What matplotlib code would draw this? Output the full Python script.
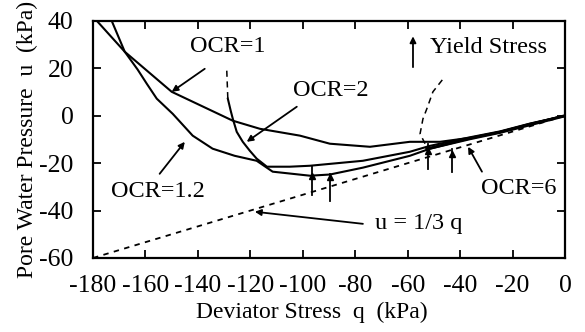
import matplotlib.pyplot as plt
import numpy as np

plt.rcParams['font.family'] = 'Liberation Serif'
plt.rcParams['axes.unicode_minus'] = False

# deviator stress q (kPa) and pore pressure u (kPa)
ocr1_q = [-178.6, -167.9, -150.0, -126.7, -116.4, -101.1, -89.7, -74.4, -59.2, -47.7, -36.3, -24.8, -13.4, 0]
ocr1_u = [40.1, 27.0, 10.1, -2.1, -5.5, -8.4, -11.8, -13.1, -11.0, -11.0, -9.3, -6.8, -3.4, 0]

ocr12_q = [-172.9, -167.9, -163.0, -159.5, -155.7, -149.6, -142.0, -134.4, -126.0, -117.6, -111.5,
           -97.3, -89.7, -77.1, -59.2, -51.5, -36.3, -24.8, -13.4, 0]
ocr12_u = [40.1, 27.0, 19.5, 13.5, 7.2, 0.8, -8.4, -13.9, -16.9, -19.0, -23.6,
           -25.3, -24.8, -21.9, -16.9, -13.9, -9.6, -7.0, -3.6, 0]

ocr2_dash_q = [-129.0, -128.6]
ocr2_dash_u = [19.0, 7.2]
ocr2_q = [-128.6, -127.5, -126.7, -125.2, -122.9, -120.2, -117.6, -113.7, -105.0, -97.3, -77.1,
          -59.2, -51.5, -36.3, -24.8, -13.4, 0]
ocr2_u = [7.2, 2.1, -1.3, -6.8, -11.0, -14.8, -18.1, -21.5, -21.5, -21.1, -19.0,
          -15.2, -12.7, -9.1, -6.6, -3.3, 0]

ocr6_q = [-52.7, -44.3, -36.3, -24.8, -13.4, 0]
ocr6_u = [-14.0, -11.8, -9.7, -7.0, -3.8, 0]

locus_q = [-53.4, -55.3, -54.2, -52.7, -50.4, -46.2]
locus_u = [-11.8, -7.6, -1.3, 3.0, 10.1, 16.0]

line_q = [-180, 0]
line_u = [q / 3 for q in line_q]

# yield stress arrows: q, top, head, bottom
yield_q = [-96.6, -89.7, -52.3, -43.1]
yield_top = [-21.1, -24.5, -11.8, -13.9]
yield_head = [-25.3, -25.7, -14.8, -16.0]
yield_bot = [-33.3, -35.9, -22.4, -23.6]

fig = plt.figure(figsize=(5.85, 3.32), dpi=100)
ax = fig.add_axes([0.159, 0.223, 0.807, 0.714])

lw = 1.5
ax.plot(ocr1_q, ocr1_u, color='black', lw=lw)
ax.plot(ocr12_q, ocr12_u, color='black', lw=lw)
ax.plot(ocr2_q, ocr2_u, color='black', lw=lw)
ax.plot(ocr2_dash_q, ocr2_dash_u, color='black', lw=1.1, ls=(0, (4, 3)))
ax.plot(ocr6_q, ocr6_u, color='black', lw=2.2)
ax.plot(locus_q, locus_u, color='black', lw=1.1, ls=(0, (4, 3)))
ax.plot(line_q, line_u, color='black', lw=1.3, ls=(0, (3, 3)))

for q, t, h, b in zip(yield_q, yield_top, yield_head, yield_bot):
    ax.plot([q, q], [t, b], color='black', lw=1.3)
    ax.plot(q, h, marker='^', color='black', ms=4.5)

arrow = dict(arrowstyle='-|>', lw=1.3, color='black', mutation_scale=9, shrinkA=0, shrinkB=0)
fs = 17.5
ax.annotate('', xy=(-150.0, 10.1), xytext=(-137.4, 19.8), arrowprops=arrow)
ax.annotate('', xy=(-121.4, -11.0), xytext=(-102.3, 3.8), arrowprops=arrow)
ax.annotate('', xy=(-145.0, -11.0), xytext=(-154.6, -24.5), arrowprops=arrow)
ax.annotate('', xy=(-37.0, -13.1), xytext=(-31.7, -23.6), arrowprops=arrow)
ax.annotate('', xy=(-118.3, -40.5), xytext=(-77.1, -45.6), arrowprops=arrow)
ax.annotate('', xy=(-58.0, 33.5), xytext=(-58.0, 20.5), arrowprops=arrow)

ax.text(-128.6, 29.1, 'OCR=1', fontsize=fs, ha='center', va='center')
ax.text(-89.3, 10.5, 'OCR=2', fontsize=fs, ha='center', va='center')
ax.text(-155.3, -32.1, 'OCR=1.2', fontsize=fs, ha='center', va='center')
ax.text(-17.6, -30.8, 'OCR=6', fontsize=fs, ha='center', va='center')
ax.text(-72.5, -45.6, 'u = 1/3 q', fontsize=fs, ha='left', va='center')
ax.text(-51.5, 28.7, 'Yield Stress', fontsize=fs, ha='left', va='center')

ax.set_xlim(-180, 0)
ax.set_ylim(-60, 40)
ax.set_xticks(np.arange(-180, 1, 20))
ax.set_yticks(np.arange(-60, 41, 20))
ax.tick_params(direction='in', length=6, width=1.3, top=True, right=True, labelsize=18.5)
ax.tick_params(axis='x', pad=12)
ax.tick_params(axis='y', pad=14)
for s in ax.spines.values():
    s.set_linewidth(1.6)
ax.set_xlabel('Deviator Stress  q  (kPa)', fontsize=17, labelpad=4)
ax.xaxis.label.set_x(0.464)
ax.set_ylabel('Pore Water Pressure  u  (kPa)', fontsize=17, labelpad=1)

fig.savefig('out.png', dpi=100)
